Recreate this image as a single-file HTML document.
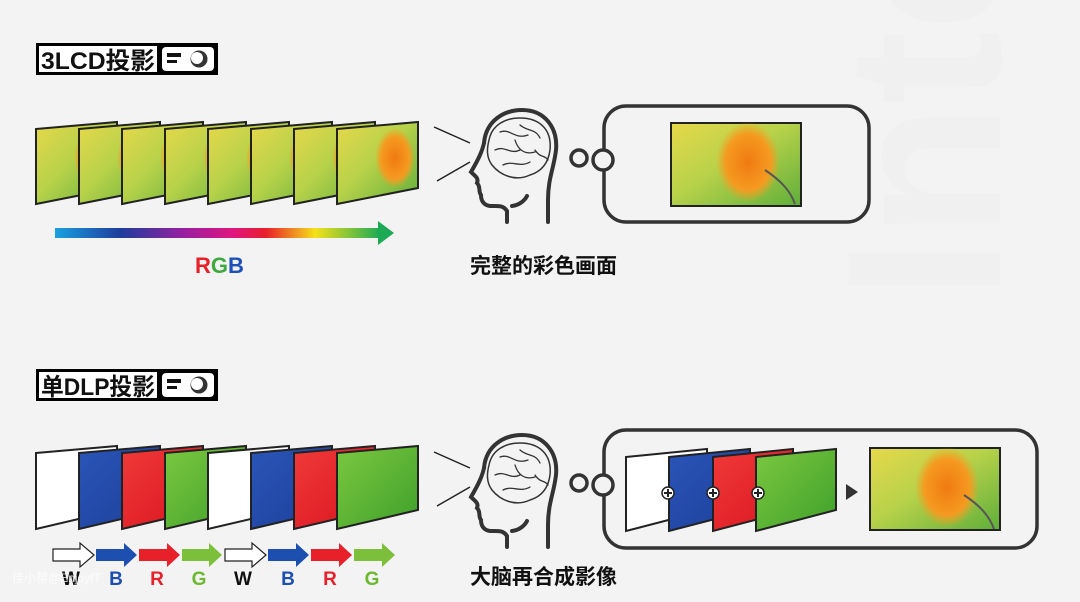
<!DOCTYPE html>
<html><head><meta charset="utf-8"><style>
html,body{margin:0;padding:0;background:#f3f3f3;}
svg{display:block}
text{font-family:"Liberation Sans","Noto Sans CJK SC",sans-serif;font-weight:bold}
</style></head><body>
<svg width="1080" height="602" viewBox="0 0 1080 602" xmlns="http://www.w3.org/2000/svg">
<defs>
<linearGradient id="img" x1="0" y1="0" x2="1" y2="1">
<stop offset="0" stop-color="#e7d84a"/><stop offset="0.45" stop-color="#b8d24a"/><stop offset="1" stop-color="#5fae3a"/></linearGradient>
<radialGradient id="fl" cx="0.5" cy="0.5" r="0.5"><stop offset="0" stop-color="#f07a10"/><stop offset="0.7" stop-color="#f59a20"/><stop offset="1" stop-color="#f5a020" stop-opacity="0"/></radialGradient>
<linearGradient id="rgb" x1="0" x2="1">
<stop offset="0" stop-color="#1aa0e0"/><stop offset="0.2" stop-color="#1d3d9c"/><stop offset="0.4" stop-color="#9a1fa0"/><stop offset="0.55" stop-color="#e0157f"/><stop offset="0.65" stop-color="#e8202a"/><stop offset="0.8" stop-color="#f5e01a"/><stop offset="1" stop-color="#1daa55"/></linearGradient>
<linearGradient id="bl" x1="0" y1="0" x2="1" y2="1"><stop offset="0" stop-color="#2a55b8"/><stop offset="1" stop-color="#1d3f9a"/></linearGradient>
<linearGradient id="rd" x1="0" y1="0" x2="1" y2="1"><stop offset="0" stop-color="#f03a3a"/><stop offset="1" stop-color="#d8141e"/></linearGradient>
<linearGradient id="gr" x1="0" y1="0" x2="1" y2="1"><stop offset="0" stop-color="#7cc840"/><stop offset="1" stop-color="#3ea02a"/></linearGradient>
<g id="fr"><polygon points="0,7 81,0 81,66 0,82" fill="url(#img)" stroke="#222" stroke-width="2"/><ellipse cx="58" cy="36" rx="20" ry="30" fill="url(#fl)"/></g>
<g id="head" fill="none" stroke="#333" stroke-width="4" stroke-linecap="round">
<path d="M484,143 C486,120 505,110 522,110 C545,110 558,128 556,150 C554,168 548,178 548,200 L548,222"/>
<path d="M484,143 C482,152 478,160 471,172 C475,176 479,178 477,183 C481,187 478,191 481,195 C481,200 483,205 490,206 C498,206 503,205 507,211 L507,222"/>
<path d="M512,206 C520,205 525,200 527,196" />
<path d="M489,140 C492,125 505,118 520,118 C540,118 552,130 550,150 C548,165 540,172 530,175 C515,182 500,175 492,165 C486,157 487,148 489,140Z" stroke-width="1.5"/>
<path d="M495,150 C505,145 510,155 520,150 M500,132 C510,128 515,140 528,135 M520,125 C528,132 535,128 540,138 M503,165 C512,160 520,168 530,162 M535,150 C540,158 545,155 548,160 M515,140 C518,150 525,155 535,152" stroke-width="1.3"/>
</g>
</defs>

<text x="1000" y="300" font-size="220" fill="#f0f0f0" transform="rotate(-90 1000 300)">Intel</text>

<!-- 3LCD label -->
<rect x="36" y="43" width="182" height="32" fill="#000"/>
<rect x="39" y="46" width="118" height="26" fill="#fff"/>
<text x="41" y="69" font-size="24" fill="#111" textLength="114" lengthAdjust="spacingAndGlyphs">3LCD投影</text>
<rect x="162" y="47" width="52" height="24" rx="4" fill="#fff"/>
<rect x="167" y="53" width="14" height="4" fill="#111"/><rect x="167" y="60" width="10" height="3" fill="#111"/>
<circle cx="199" cy="59" r="9" fill="#333" stroke="#fff" stroke-width="1"/><circle cx="197" cy="58" r="6" fill="#fff"/>

<use href="#fr" x="36" y="122"/><use href="#fr" x="79" y="122"/><use href="#fr" x="122" y="122"/><use href="#fr" x="165" y="122"/>
<use href="#fr" x="208" y="122"/><use href="#fr" x="251" y="122"/><use href="#fr" x="294" y="122"/><use href="#fr" x="337" y="122"/>

<rect x="55" y="228" width="325" height="10" fill="url(#rgb)"/>
<polygon points="378,221 394,233 378,245" fill="#1daa55"/>
<text x="195" y="273" font-size="22"><tspan fill="#e8202a">R</tspan><tspan fill="#3caa3c">G</tspan><tspan fill="#1d50b8">B</tspan></text>

<line x1="434" y1="127" x2="470" y2="143" stroke="#222" stroke-width="1.5"/>
<line x1="437" y1="181" x2="470" y2="162" stroke="#222" stroke-width="1.5"/>
<use href="#head"/>
<rect x="604" y="106" width="265" height="116" rx="22" fill="none" stroke="#333" stroke-width="3.5"/>
<circle cx="579" cy="158" r="8" fill="none" stroke="#333" stroke-width="3.5"/>
<circle cx="603" cy="160" r="10" fill="#f3f3f3" stroke="#333" stroke-width="3.5"/>
<rect x="671" y="123" width="130" height="83" fill="url(#img)" stroke="#222" stroke-width="2"/>
<ellipse cx="748" cy="162" rx="32" ry="40" fill="url(#fl)"/>
<path d="M765,170 C780,180 790,190 795,204" stroke="#555" stroke-width="2" fill="none"/>
<text x="470" y="273" font-size="21" fill="#111">完整的彩色画面</text>

<!-- DLP label -->
<rect x="36" y="369" width="182" height="32" fill="#000"/>
<rect x="39" y="372" width="118" height="26" fill="#fff"/>
<text x="41" y="395" font-size="24" fill="#111" textLength="114" lengthAdjust="spacingAndGlyphs">单DLP投影</text>
<rect x="162" y="373" width="52" height="24" rx="4" fill="#fff"/>
<rect x="167" y="379" width="14" height="4" fill="#111"/><rect x="167" y="386" width="10" height="3" fill="#111"/>
<circle cx="199" cy="385" r="9" fill="#333" stroke="#fff" stroke-width="1"/><circle cx="197" cy="384" r="6" fill="#fff"/>

<g stroke="#222" stroke-width="2">
<polygon points="36,453 117,446 117,510 36,529" fill="#fff"/>
<polygon points="79,453 160,446 160,510 79,529" fill="url(#bl)"/>
<polygon points="122,453 203,446 203,510 122,529" fill="url(#rd)"/>
<polygon points="165,453 246,446 246,510 165,529" fill="url(#gr)"/>
<polygon points="208,453 289,446 289,510 208,529" fill="#fff"/>
<polygon points="251,453 332,446 332,510 251,529" fill="url(#bl)"/>
<polygon points="294,453 375,446 375,510 294,529" fill="url(#rd)"/>
<polygon points="337,453 418,446 418,510 337,529" fill="url(#gr)"/>
</g>
<g>
<polygon points="53,549 80,549 80,543 94,555 80,567 80,561 53,561" fill="#fff" stroke="#222" stroke-width="1.2"/>
<polygon points="96,549 124,549 124,543 137,555 124,567 124,561 96,561" fill="#1d4fb0"/>
<polygon points="139,549 167,549 167,543 180,555 167,567 167,561 139,561" fill="#e8202a"/>
<polygon points="182,549 209,549 209,543 222,555 209,567 209,561 182,561" fill="#7cbf3a"/>
<polygon points="225,549 252,549 252,543 266,555 252,567 252,561 225,561" fill="#fff" stroke="#222" stroke-width="1.2"/>
<polygon points="268,549 296,549 296,543 309,555 296,567 296,561 268,561" fill="#1d4fb0"/>
<polygon points="311,549 339,549 339,543 352,555 339,567 339,561 311,561" fill="#e8202a"/>
<polygon points="354,549 382,549 382,543 395,555 382,567 382,561 354,561" fill="#7cbf3a"/>
</g>
<g font-size="19" text-anchor="middle">
<text x="71" y="585" fill="#111">W</text><text x="116" y="585" fill="#1d4fb0">B</text>
<text x="157" y="585" fill="#e8202a">R</text><text x="199" y="585" fill="#6cb830">G</text>
<text x="243" y="585" fill="#111">W</text><text x="288" y="585" fill="#1d4fb0">B</text>
<text x="330" y="585" fill="#e8202a">R</text><text x="372" y="585" fill="#6cb830">G</text>
</g>
<text x="12" y="582" font-size="12" fill="#fff" opacity="0.8" style="font-weight:normal">佳小帮@EnjoyIT</text>

<line x1="434" y1="452" x2="470" y2="468" stroke="#222" stroke-width="1.5"/>
<line x1="437" y1="506" x2="470" y2="487" stroke="#222" stroke-width="1.5"/>
<use href="#head" y="325"/>
<rect x="604" y="430" width="433" height="118" rx="22" fill="none" stroke="#333" stroke-width="3.5"/>
<circle cx="579" cy="483" r="8" fill="none" stroke="#333" stroke-width="3.5"/>
<circle cx="603" cy="485" r="10" fill="#f3f3f3" stroke="#333" stroke-width="3.5"/>
<g stroke="#222" stroke-width="2">
<polygon points="626,457 707,449 707,510 626,531" fill="#fff"/>
<polygon points="669,457 750,449 750,510 669,531" fill="url(#bl)"/>
<polygon points="713,457 793,449 793,510 713,531" fill="url(#rd)"/>
<polygon points="756,457 836,449 836,510 756,531" fill="url(#gr)"/>
</g>
<g fill="#fff" stroke="#222" stroke-width="1.5">
<circle cx="668" cy="493" r="6"/><circle cx="713" cy="493" r="6"/><circle cx="758" cy="493" r="6"/>
</g>
<g stroke="#222" stroke-width="2">
<path d="M664,493h8M668,489v8M709,493h8M713,489v8M754,493h8M758,489v8"/>
</g>
<polygon points="846,484 858,492 846,500" fill="#333"/>
<rect x="870" y="448" width="130" height="82" fill="url(#img)" stroke="#222" stroke-width="2"/>
<ellipse cx="947" cy="487" rx="32" ry="40" fill="url(#fl)"/>
<path d="M964,495 C979,505 989,515 994,529" stroke="#555" stroke-width="2" fill="none"/>
<text x="470" y="584" font-size="21" fill="#111">大脑再合成影像</text>
</svg>
</body></html>
